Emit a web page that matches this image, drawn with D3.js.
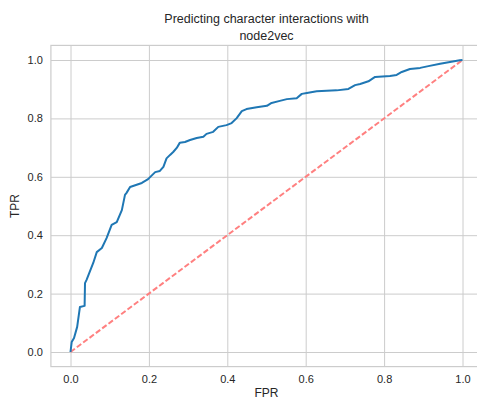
<!DOCTYPE html>
<html>
<head>
<meta charset="utf-8">
<script src="https://cdn.jsdelivr.net/npm/d3@7"></script>
<style>
  body { margin: 0; background: #fff; }
  svg { display: block; font-family: "Liberation Sans", Arial, sans-serif; }
  .axis text { fill: #262626; font-size: 11px; }
  .axis line { stroke: #cccccc; stroke-width: 1; }
  .axis .domain { display: none; }
</style>
</head>
<body>
<div id="chart"></div>
<script>
// ROC curve points
const fpr = [0, 0.003, 0.009, 0.017, 0.024, 0.036, 0.037, 0.041, 0.058, 0.067, 0.080, 0.092,
  0.105, 0.118, 0.131, 0.139, 0.143, 0.152, 0.182, 0.198, 0.203, 0.216, 0.228, 0.237,
  0.245, 0.254, 0.262, 0.271, 0.279, 0.292, 0.305, 0.322, 0.339, 0.347, 0.364, 0.377,
  0.398, 0.411, 0.424, 0.437, 0.449, 0.475, 0.501, 0.513, 0.534, 0.552, 0.577, 0.590,
  0.603, 0.628, 0.679, 0.709, 0.726, 0.739, 0.760, 0.777, 0.815, 0.832, 0.845, 0.866,
  0.892, 0.913, 0.943, 0.968, 0.993, 1]
const tpr = [0, 0.034, 0.048, 0.086, 0.154, 0.158, 0.236, 0.247, 0.305, 0.342, 0.356, 0.390,
  0.435, 0.445, 0.486, 0.538, 0.545, 0.565, 0.579, 0.592, 0.599, 0.616, 0.620, 0.634,
  0.663, 0.675, 0.685, 0.699, 0.717, 0.719, 0.726, 0.733, 0.737, 0.747, 0.754, 0.771,
  0.777, 0.784, 0.801, 0.825, 0.832, 0.838, 0.843, 0.853, 0.860, 0.866, 0.869, 0.884,
  0.887, 0.893, 0.896, 0.901, 0.914, 0.918, 0.927, 0.942, 0.945, 0.949, 0.959, 0.969,
  0.973, 0.979, 0.987, 0.993, 0.999, 1]
const chance = [0, 1]
const ticks = [0, 0.2, 0.4, 0.6, 0.8, 1.0]
const titleLines = ["Predicting character interactions with", "node2vec"]

const margins = { left: 50.9, top: 45.4, right: -5.1, bottom: 32.4 }
const totalWidth = 477
const totalHeight = 399
const width = totalWidth - margins.left - margins.right
const height = totalHeight - margins.top - margins.bottom

const svg = d3.select("#chart")
  .append("svg")
  .attr("width", totalWidth)
  .attr("height", totalHeight)

svg.append("rect").attr("width", totalWidth).attr("height", totalHeight).attr("fill", "#fff")

const g = svg.append("g").attr("transform", `translate(${margins.left}, ${margins.top})`)

const x = d3.scaleLinear().domain([-0.05, 1.05]).range([0, width])
const y = d3.scaleLinear().domain([-0.05, 1.05]).range([height, 0])

const xAxis = d3.axisBottom(x).tickValues(ticks).tickFormat(d3.format(".1f"))
  .tickSize(-height).tickSizeOuter(0).tickPadding(9)
const yAxis = d3.axisLeft(y).tickValues(ticks).tickFormat(d3.format(".1f"))
  .tickSize(-width).tickSizeOuter(0).tickPadding(8)

g.append("g").attr("class", "axis").attr("transform", `translate(0, ${height})`).call(xAxis)
g.append("g").attr("class", "axis").call(yAxis)

// frame (spines)
g.append("rect")
  .attr("x", 0).attr("y", 0)
  .attr("width", width).attr("height", height)
  .attr("fill", "none").attr("stroke", "#cccccc").attr("stroke-width", 1.2)

const pts = fpr.map((d, i) => [d, tpr[i]])
const line = d3.line().x((d) => x(d[0])).y((d) => y(d[1]))

g.append("path")
  .datum(chance.map((d) => [d, d]))
  .attr("d", line)
  .attr("fill", "none")
  .attr("stroke", "#ff8080")
  .attr("stroke-width", 2)
  .attr("stroke-dasharray", "5.5,2.4")

g.append("path")
  .datum(pts)
  .attr("d", line)
  .attr("fill", "none")
  .attr("stroke", "#1f77b4")
  .attr("stroke-width", 2)
  .attr("stroke-linejoin", "round")

svg.append("text")
  .attr("x", margins.left + width / 2)
  .attr("y", totalHeight - 2)
  .attr("text-anchor", "middle")
  .attr("font-size", 12)
  .attr("fill", "#262626")
  .text("FPR")

svg.append("text")
  .attr("transform", `translate(19, ${margins.top + height / 2}) rotate(-90)`)
  .attr("text-anchor", "middle")
  .attr("font-size", 12)
  .attr("fill", "#262626")
  .text("TPR")

svg.selectAll(".title")
  .data(titleLines)
  .enter()
  .append("text")
  .attr("class", "title")
  .attr("x", margins.left + width / 2)
  .attr("y", (d, i) => 23 + i * 16.5)
  .attr("text-anchor", "middle")
  .attr("font-size", 12.5)
  .attr("fill", "#262626")
  .text((d) => d)
</script>
</body>
</html>
